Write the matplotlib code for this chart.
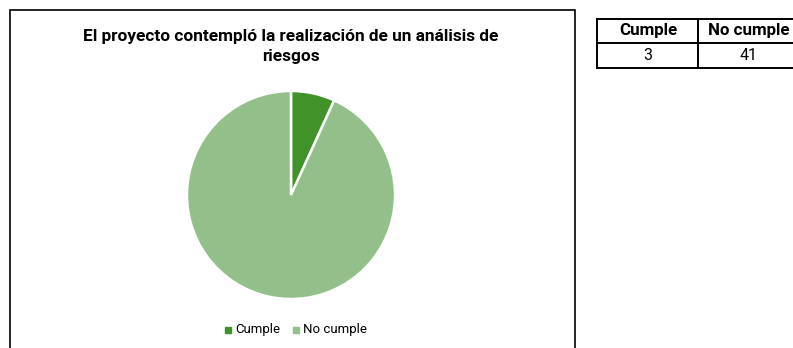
import matplotlib.pyplot as plt
from matplotlib.patches import Rectangle
from matplotlib.lines import Line2D

categories = ["Cumple", "No cumple"]
counts = [3, 41]
colors = ["#3f9329", "#93c08a"]
title = "El proyecto contempló la realización de un análisis de\nriesgos"

W, H = 793, 348
FONT = ["Roboto", "DejaVu Sans"]
plt.rcParams["font.family"] = FONT


def fx(px):
    return px / W


def fy(py):
    return 1 - py / H


fig = plt.figure(figsize=(W / 100, H / 100), dpi=100)

# chart frame
fig.patches.append(Rectangle((fx(10), fy(360)), fx(575) - fx(10), fy(10) - fy(360),
                             transform=fig.transFigure, fill=False,
                             edgecolor="black", linewidth=1.2))

fig.text(fx(291), fy(46.5), title, ha="center", va="center", fontsize=12.4,
         fontweight="bold", linespacing=1.5)

ax = fig.add_axes([fx(188), fy(298), fx(206), 206 / H])
ax.pie(counts, colors=colors, startangle=90, counterclock=False,
       wedgeprops=dict(edgecolor="white", linewidth=1.8))
ax.set_xlim(-0.99, 0.99)
ax.set_ylim(-0.99, 0.99)
ax.set_aspect("equal")

# legend
leg_x = [225, 293]
for x, cat, col in zip(leg_x, categories, colors):
    fig.patches.append(Rectangle((fx(x), fy(333)), fx(6), 6 / H,
                                 transform=fig.transFigure, color=col))
    fig.text(fx(x + 10), fy(330), cat, ha="left", va="center", fontsize=9.5)

# table on the right
tx0, tx1, tx2 = 597, 698, 800
ty0, ty1, ty2 = 19, 43, 68
for y in (ty0, ty1, ty2):
    fig.add_artist(Line2D([fx(tx0), fx(tx2)], [fy(y), fy(y)], color="black", lw=1.4,
                          transform=fig.transFigure))
for x in (tx0, tx1):
    fig.add_artist(Line2D([fx(x), fx(x)], [fy(ty0), fy(ty2)], color="black", lw=1.4,
                          transform=fig.transFigure))
for xc, cat, val in zip([648, 749], categories, counts):
    fig.text(fx(xc), fy(31), cat, ha="center", va="center", fontsize=12.2,
             fontweight="bold")
    fig.text(fx(xc), fy(56), str(val), ha="center", va="center", fontsize=11.5)

fig.savefig("out.png", dpi=100)
